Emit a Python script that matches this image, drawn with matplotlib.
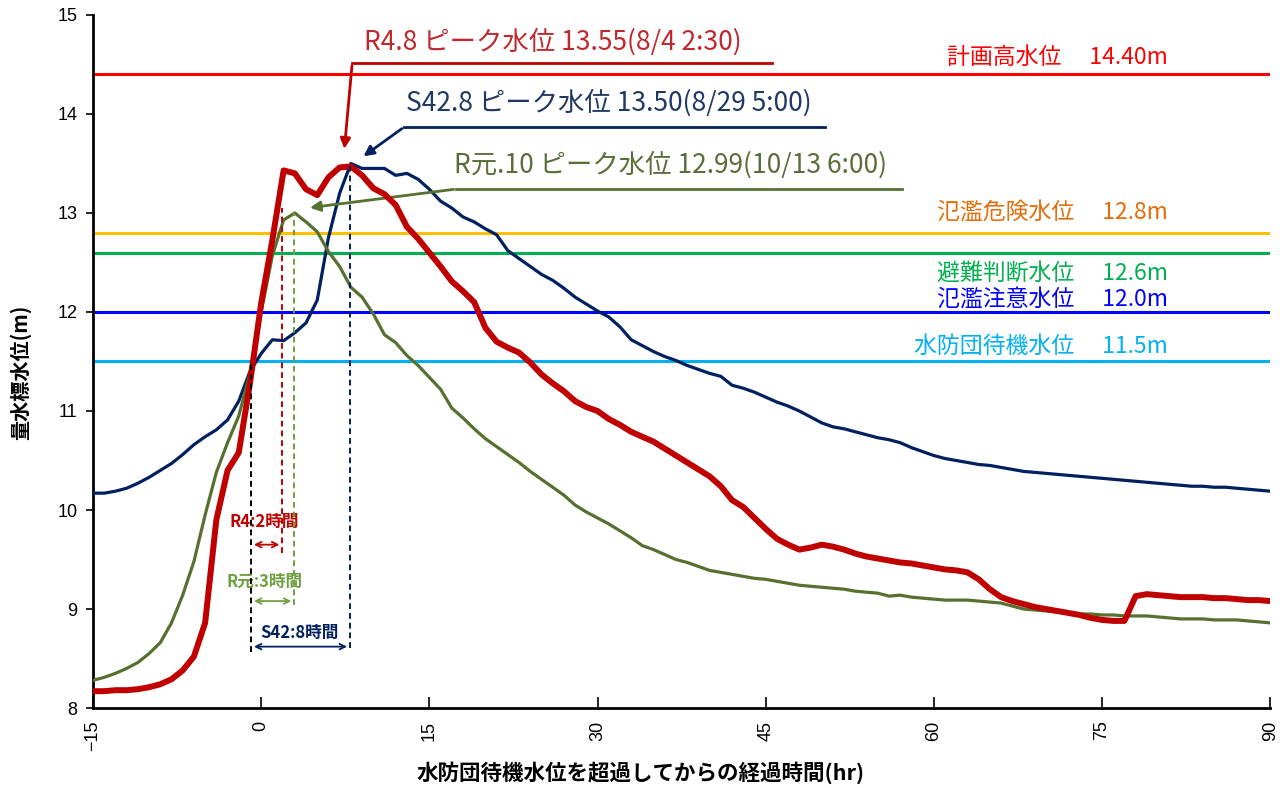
import matplotlib
matplotlib.use('Agg')
import matplotlib.pyplot as plt

plt.rcParams['font.family'] = ['Noto Sans CJK JP', 'DejaVu Sans']

# 経過時間 (hr)
hours = list(range(-15, 91))

# S42.8
s42 = [10.17, 10.17, 10.19, 10.22, 10.27, 10.33, 10.40, 10.47, 10.56, 10.66,
       10.74, 10.81, 10.91, 11.10, 11.40, 11.58, 11.72, 11.71, 11.79, 11.89,
       12.12, 12.75, 13.20, 13.50, 13.45, 13.45, 13.45, 13.38, 13.40, 13.34,
       13.24, 13.12, 13.05, 12.96, 12.91, 12.84, 12.78, 12.62, 12.54, 12.46,
       12.38, 12.32, 12.24, 12.15, 12.08, 12.01, 11.95, 11.85, 11.72, 11.66,
       11.60, 11.55, 11.51, 11.46, 11.42, 11.38, 11.35, 11.26, 11.23, 11.19,
       11.14, 11.09, 11.05, 11.00, 10.94, 10.88, 10.84, 10.82, 10.79, 10.76,
       10.73, 10.71, 10.68, 10.63, 10.59, 10.55, 10.52, 10.50, 10.48, 10.46,
       10.45, 10.43, 10.41, 10.39, 10.38, 10.37, 10.36, 10.35, 10.34, 10.33,
       10.32, 10.31, 10.30, 10.29, 10.28, 10.27, 10.26, 10.25, 10.24, 10.24,
       10.23, 10.23, 10.22, 10.21, 10.20, 10.19]

# R4.8
r4 = [8.17, 8.17, 8.18, 8.18, 8.19, 8.21, 8.24, 8.29, 8.38, 8.52,
      8.86, 9.90, 10.40, 10.58, 11.28, 12.09, 12.73, 13.43, 13.40, 13.24,
      13.18, 13.36, 13.46, 13.47, 13.38, 13.25, 13.19, 13.08, 12.86, 12.74,
      12.60, 12.46, 12.31, 12.21, 12.10, 11.84, 11.70, 11.64, 11.59, 11.49,
      11.37, 11.28, 11.20, 11.10, 11.04, 11.00, 10.92, 10.86, 10.79, 10.74,
      10.69, 10.62, 10.55, 10.48, 10.41, 10.34, 10.24, 10.10, 10.03, 9.92,
      9.81, 9.71, 9.65, 9.60, 9.62, 9.65, 9.63, 9.60, 9.56, 9.53,
      9.51, 9.49, 9.47, 9.46, 9.44, 9.42, 9.40, 9.39, 9.37, 9.30,
      9.20, 9.12, 9.08, 9.05, 9.02, 9.00, 8.98, 8.96, 8.94, 8.91,
      8.89, 8.88, 8.88, 9.13, 9.15, 9.14, 9.13, 9.12, 9.12, 9.12,
      9.11, 9.11, 9.10, 9.09, 9.09, 9.08]

# R元.10
r1 = [8.28, 8.31, 8.35, 8.40, 8.46, 8.55, 8.66, 8.86, 9.14, 9.48,
      9.95, 10.38, 10.68, 10.95, 11.38, 12.00, 12.57, 12.93, 13.00, 12.91,
      12.81, 12.61, 12.46, 12.25, 12.15, 11.98, 11.77, 11.69, 11.56, 11.46,
      11.34, 11.22, 11.03, 10.93, 10.82, 10.72, 10.64, 10.56, 10.48, 10.39,
      10.31, 10.23, 10.15, 10.05, 9.98, 9.92, 9.86, 9.79, 9.72, 9.64,
      9.60, 9.55, 9.50, 9.47, 9.43, 9.39, 9.37, 9.35, 9.33, 9.31,
      9.30, 9.28, 9.26, 9.24, 9.23, 9.22, 9.21, 9.20, 9.18, 9.17,
      9.16, 9.13, 9.14, 9.12, 9.11, 9.10, 9.09, 9.09, 9.09, 9.08,
      9.07, 9.06, 9.03, 9.00, 8.99, 8.98, 8.97, 8.96, 8.95, 8.95,
      8.94, 8.94, 8.93, 8.93, 8.93, 8.92, 8.91, 8.90, 8.90, 8.90,
      8.89, 8.89, 8.89, 8.88, 8.87, 8.86]

# 基準水位
levels = [14.40, 12.8, 12.6, 12.0, 11.5]
level_names = ['計画高水位\u3000 14.40m', '氾濫危険水位\u3000 12.8m', '避難判断水位\u3000 12.6m',
               '氾濫注意水位\u3000 12.0m', '水防団待機水位\u3000 11.5m']
level_line_colors = ['#FF0000', '#FFC000', '#00B050', '#0000FF', '#00B0F0']
level_text_colors = ['#FF0000', '#E46C0A', '#00B050', '#0000FF', '#00B0F0']
level_text_y = [14.57, 13.00, 12.39, 12.12, 11.65]

c_red = '#C00000'
c_navy = '#002060'
c_olive = '#56702F'

fig = plt.figure(figsize=(12.83, 7.88), dpi=100)
ax = fig.add_axes([0.0725, 0.1015, 0.9175, 0.8795])

for lv, lc, tc, name, ty in zip(levels, level_line_colors, level_text_colors, level_names, level_text_y):
    ax.axhline(lv, color=lc, lw=2.2, zorder=1)
    ax.text(80.9, ty, name, color=tc, fontsize=16.5, ha='right', va='center')

ax.plot(hours, s42, color=c_navy, lw=2.3, zorder=3)
ax.plot(hours, r1, color=c_olive, lw=2.3, zorder=3)
ax.plot(hours, r4, color=c_red, lw=4.3, zorder=4)

# ピーク到達までの時間（点線）
ax.plot([-0.89, -0.89], [8.57, 11.5], ls=(0, (3, 2)), color='black', lw=1.4, zorder=5)
ax.plot([1.87, 1.87], [9.57, 13.05], ls=(0, (3, 2)), color='#C00000', lw=1.4, zorder=5)
ax.plot([2.94, 2.94], [9.04, 13.0], ls=(0, (3, 2)), color='#70A040', lw=1.4, zorder=5)
ax.plot([7.91, 7.91], [8.61, 13.5], ls=(0, (3, 2)), color=c_navy, lw=1.4, zorder=5)

ax.annotate('', xy=(1.87, 9.65), xytext=(-0.89, 9.65),
            arrowprops=dict(arrowstyle='<->', color='#C00000', lw=1.3))
ax.annotate('', xy=(2.94, 9.08), xytext=(-0.89, 9.08),
            arrowprops=dict(arrowstyle='<->', color='#70A040', lw=1.3))
ax.annotate('', xy=(7.91, 8.62), xytext=(-0.89, 8.62),
            arrowprops=dict(arrowstyle='<->', color=c_navy, lw=1.3))
ax.text(0.3, 9.88, 'R4:2時間', color='#C00000', fontsize=12, fontweight='bold', ha='center', va='center')
ax.text(0.3, 9.28, 'R元:3時間', color='#70A040', fontsize=12, fontweight='bold', ha='center', va='center')
ax.text(3.4, 8.76, 'S42:8時間', color=c_navy, fontsize=12, fontweight='bold', ha='center', va='center')

# ピーク水位の引出し線
ax.plot([8.12, 45.58], [14.515, 14.515], color=c_red, lw=2, zorder=5)
ax.annotate('', xy=(7.40, 13.62), xytext=(8.12, 14.515),
            arrowprops=dict(arrowstyle='-|>', color=c_red, lw=2, mutation_scale=15))
ax.text(9.2, 14.73, 'R4.8 ピーク水位 13.55(8/4 2:30)', color='#C0282D', fontsize=19, va='center')

ax.plot([12.76, 50.31], [13.869, 13.869], color=c_navy, lw=2, zorder=5)
ax.annotate('', xy=(8.92, 13.556), xytext=(12.76, 13.869),
            arrowprops=dict(arrowstyle='-|>', color=c_navy, lw=2, mutation_scale=15))
ax.text(12.93, 14.11, 'S42.8 ピーク水位 13.50(8/29 5:00)', color='#203864', fontsize=19, va='center')

ax.plot([17.40, 57.18], [13.242, 13.242], color=c_olive, lw=2, zorder=5)
ax.annotate('', xy=(4.10, 13.05), xytext=(17.40, 13.242),
            arrowprops=dict(arrowstyle='-|>', color=c_olive, lw=2, mutation_scale=15))
ax.text(17.2, 13.485, 'R元.10 ピーク水位 12.99(10/13 6:00)', color='#5B6E3A', fontsize=19, va='center')

ax.set_xlim(-15, 90)
ax.set_ylim(8, 15)
ax.set_xticks(range(-15, 91, 15))
ax.set_yticks(range(8, 16))
ax.tick_params(axis='x', direction='in', length=8, width=1.2, labelsize=13, labelrotation=90, pad=9)
ax.tick_params(axis='y', direction='out', length=5, width=1.2, labelsize=13, pad=6)
for lab in ax.get_xticklabels() + ax.get_yticklabels():
    lab.set_family(['Liberation Sans', 'DejaVu Sans'])

ax.spines['top'].set_visible(False)
ax.spines['right'].set_visible(False)
ax.spines['left'].set_linewidth(2)
ax.spines['bottom'].set_linewidth(2)

ax.set_xlabel('水防団待機水位を超過してからの経過時間(hr)', fontsize=15.5, fontweight='bold')
ax.xaxis.set_label_coords(0.465, -0.077)
ax.set_ylabel('量水標水位(m)', fontsize=14.5, fontweight='bold')
ax.yaxis.set_label_coords(-0.053, 0.485)

fig.savefig('out.png', dpi=100)
